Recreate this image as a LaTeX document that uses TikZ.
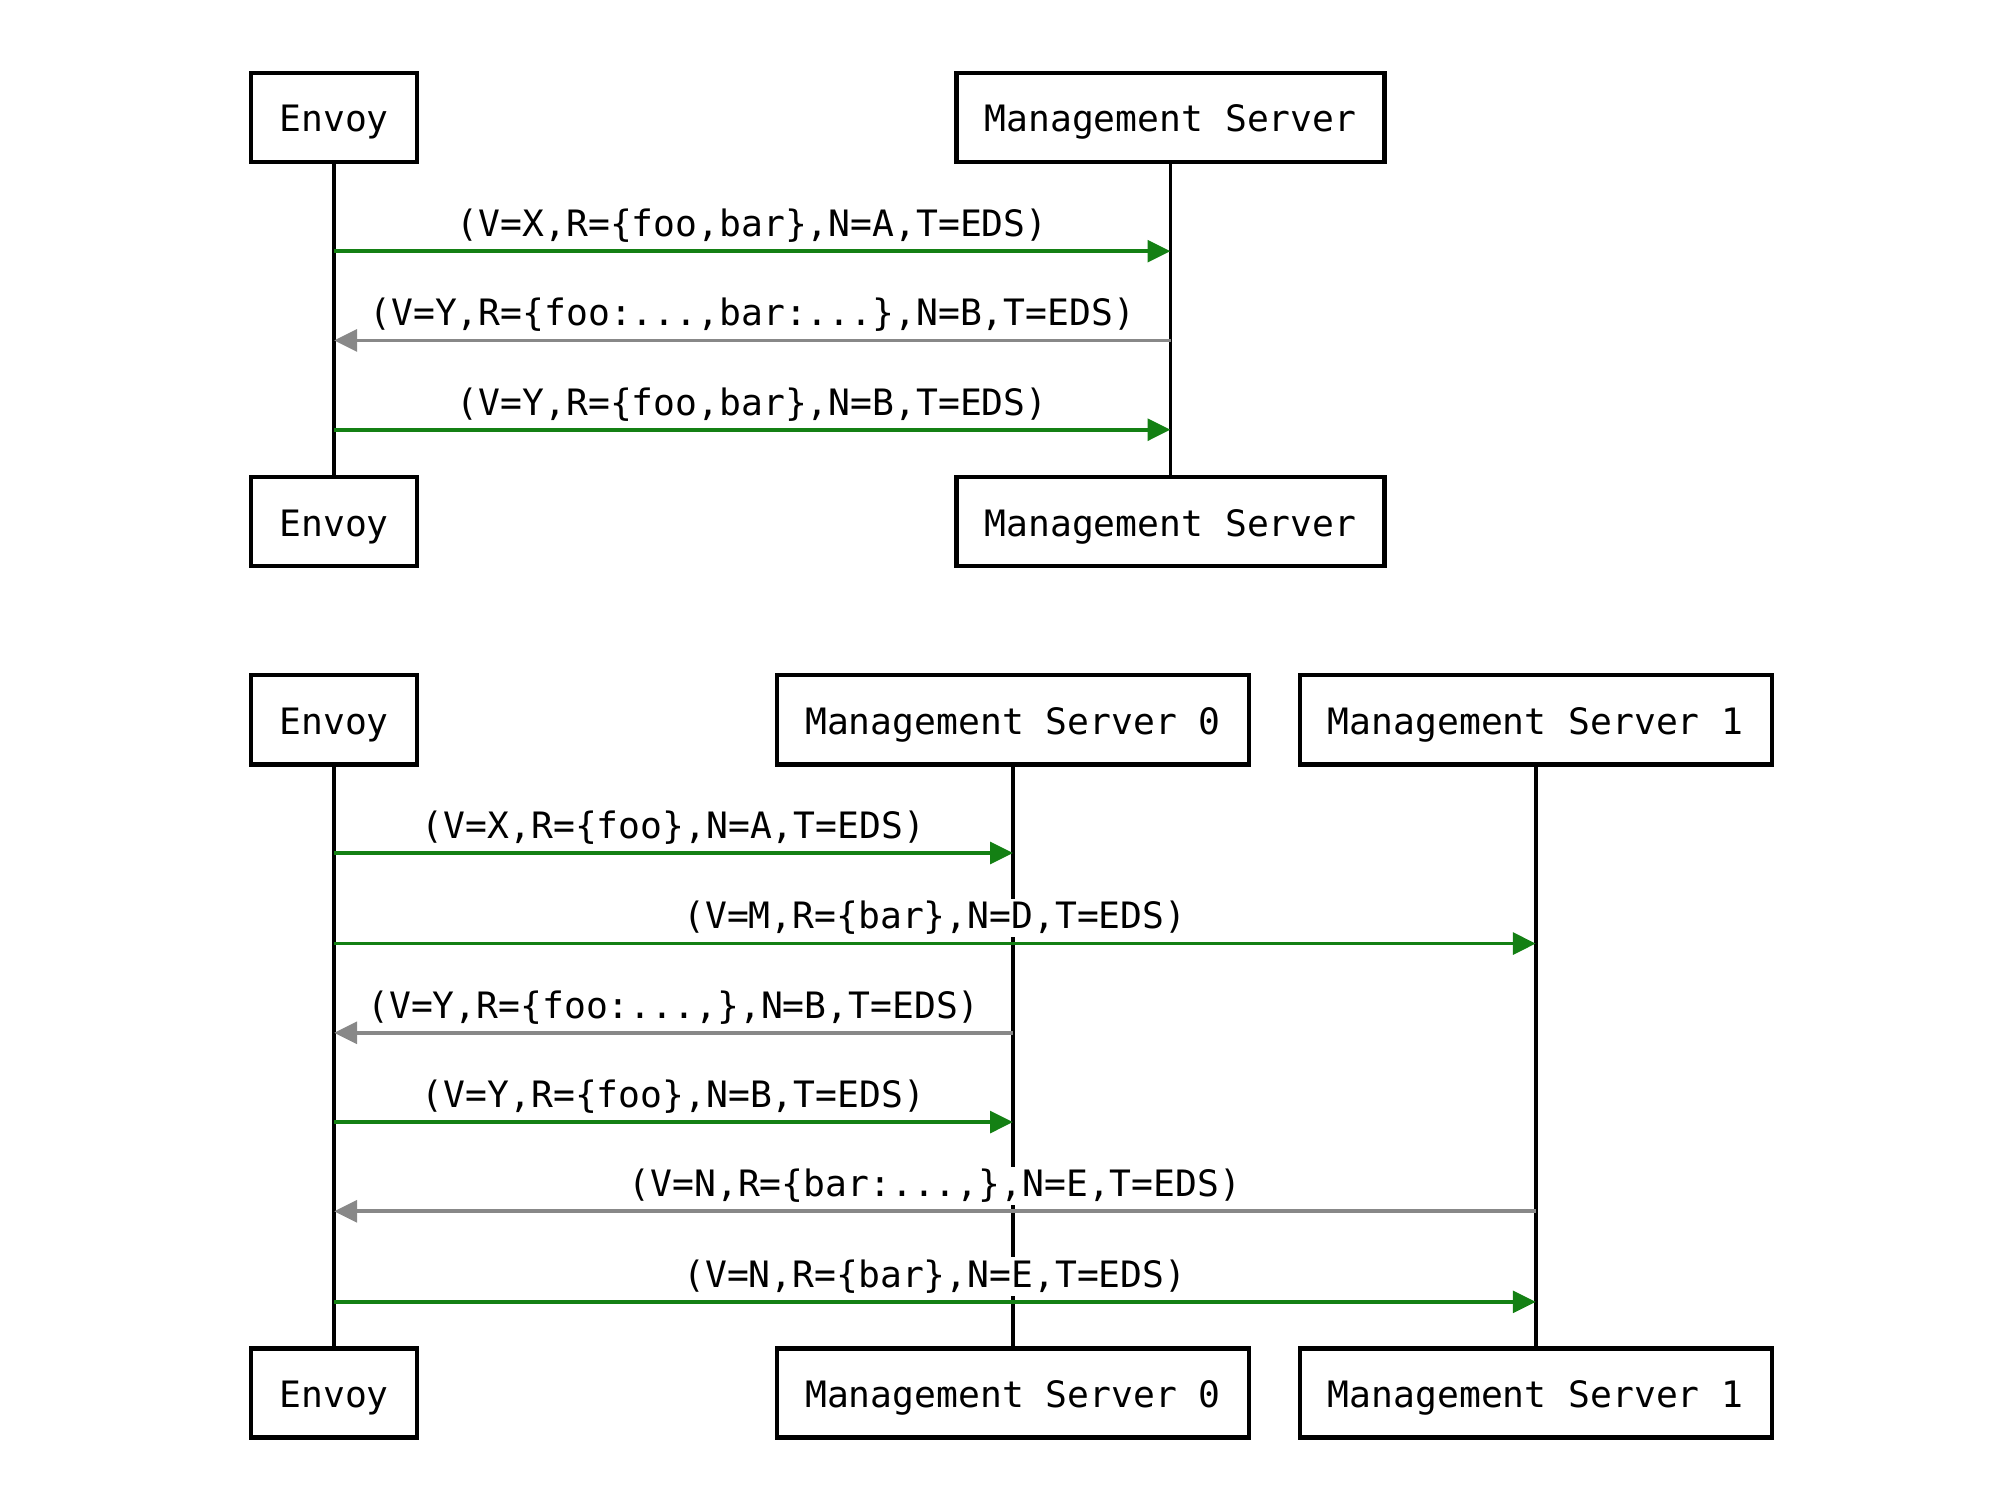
\documentclass[tikz,border=0pt]{standalone}
\usepackage{fontspec}
\newfontfamily\seqfont{DejaVu Sans Mono}
\usetikzlibrary{arrows.meta}
\definecolor{sendgreen}{RGB}{20,128,20}
\definecolor{replygray}{RGB}{136,136,136}
\tikzstyle{actor} = [rectangle,
minimum height=35pt,
inner xsep=11pt,
text height=13pt,
text depth=1.6pt,
text centered,
draw=black,
line width=1.7pt,
fill=white,
font=\seqfont\fontsize{14.25}{16}\selectfont]
\tikzstyle{lifeline} = [line width=1.5pt, draw=black]
\tikzstyle{request} = [line width=1.5pt, draw=sendgreen, -{Triangle[length=9pt,width=8.5pt]}]
\tikzstyle{response} = [line width=1.5pt, draw=replygray, -{Triangle[length=9pt,width=8.5pt]}]
\tikzstyle{msglabel} = [midway, yshift=10pt, fill=white, inner sep=1pt,
font=\seqfont\fontsize{14.25}{16}\selectfont]

\begin{document}
\begin{tikzpicture}[x=0.5pt, y=-0.5pt]
			\useasboundingbox (0,0) rectangle (1567,1175);
			% single management server
			\node (envoyA) [actor] at (262,92) {Envoy};
			\node (serverA) [actor] at (918,92) {Management Server};
			\node (envoyAend) [actor] at (262,409) {Envoy};
			\node (serverAend) [actor] at (918,409) {Management Server};

			\draw[lifeline] (envoyA) -- (envoyAend)
							(serverA) -- (serverAend);

			\draw[request] (envoyA |- 0,197) -- node[msglabel] {(V=X,R=\{foo,bar\},N=A,T=EDS)} (serverA |- 0,197);
			\draw[response] (serverA |- 0,267) -- node[msglabel] {(V=Y,R=\{foo:...,bar:...\},N=B,T=EDS)} (envoyA |- 0,267);
			\draw[request] (envoyA |- 0,337) -- node[msglabel] {(V=Y,R=\{foo,bar\},N=B,T=EDS)} (serverA |- 0,337);

			% two management servers
			\node (envoyB) [actor] at (262,564.5) {Envoy};
			\node (serverB0) [actor] at (794.5,564.5) {Management Server 0};
			\node (serverB1) [actor] at (1204.5,564.5) {Management Server 1};
			\node (envoyBend) [actor] at (262,1092.5) {Envoy};
			\node (serverB0end) [actor] at (794.5,1092.5) {Management Server 0};
			\node (serverB1end) [actor] at (1204.5,1092.5) {Management Server 1};

			\draw[lifeline] (envoyB) -- (envoyBend)
							(serverB0) -- (serverB0end)
							(serverB1) -- (serverB1end);

			\draw[request] (envoyB |- 0,669) -- node[msglabel] {(V=X,R=\{foo\},N=A,T=EDS)} (serverB0 |- 0,669);
			\draw[request] (envoyB |- 0,740) -- node[msglabel] {(V=M,R=\{bar\},N=D,T=EDS)} (serverB1 |- 0,740);
			\draw[response] (serverB0 |- 0,810) -- node[msglabel] {(V=Y,R=\{foo:...,\},N=B,T=EDS)} (envoyB |- 0,810);
			\draw[request] (envoyB |- 0,880) -- node[msglabel] {(V=Y,R=\{foo\},N=B,T=EDS)} (serverB0 |- 0,880);
			\draw[response] (serverB1 |- 0,950) -- node[msglabel] {(V=N,R=\{bar:...,\},N=E,T=EDS)} (envoyB |- 0,950);
			\draw[request] (envoyB |- 0,1021) -- node[msglabel] {(V=N,R=\{bar\},N=E,T=EDS)} (serverB1 |- 0,1021);
		\end{tikzpicture}
\end{document}
